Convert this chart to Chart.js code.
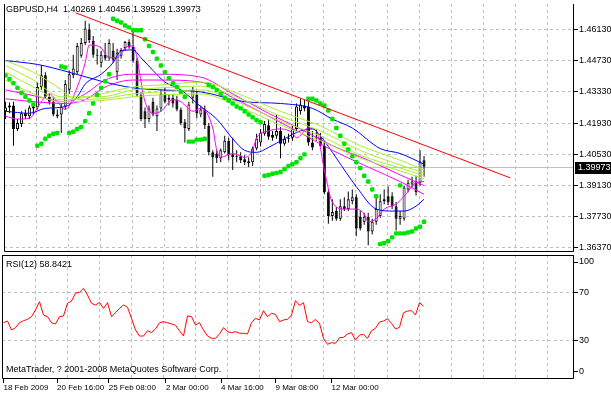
<!DOCTYPE html>
<html>
<head>
<meta charset="utf-8">
<title>GBPUSD,H4</title>
<script src="https://cdn.jsdelivr.net/npm/chart.js@4.4.1/dist/chart.umd.min.js"></script>
<style>
body { margin: 0; background: #fff; }
#wrap { position: relative; width: 611px; height: 395px; overflow: hidden; }
canvas { position: absolute; left: 0; }
#main { top: 0; }
#rsi { top: 254px; }
</style>
</head>
<body>
<div id="wrap">
<canvas id="main" width="611" height="256"></canvas>
<canvas id="rsi" width="611" height="141"></canvas>
</div>
<script>
const symbol = "GBPUSD,H4";

// H4 bars, oldest first
const opens = [1.4246, 1.4263, 1.4272, 1.4167, 1.4189, 1.4237, 1.4224, 1.4259, 1.4263, 1.4355,
	1.4407, 1.4311, 1.4289, 1.4232, 1.4232, 1.4267, 1.4342, 1.4407, 1.4421, 1.4495,
	1.4552, 1.4613, 1.4561, 1.4499, 1.4464, 1.4499, 1.4486, 1.4517, 1.4421, 1.4495,
	1.4530, 1.4556, 1.4534, 1.4473, 1.4320, 1.4246, 1.4211, 1.4289, 1.4224, 1.4259,
	1.4324, 1.4298, 1.4307, 1.4298, 1.4254, 1.4197, 1.4167, 1.4307, 1.4320, 1.4232,
	1.4254, 1.4180, 1.4062, 1.4057, 1.4036, 1.4062, 1.4114, 1.4053, 1.4044, 1.4044,
	1.4031, 1.4022, 1.4018, 1.4079, 1.4106, 1.4145, 1.4184, 1.4141, 1.4136, 1.4158,
	1.4101, 1.4123, 1.4127, 1.4167, 1.4246, 1.4272, 1.4267, 1.4106, 1.4127, 1.4127,
	1.4092, 1.3883, 1.3777, 1.3799, 1.3764, 1.3821, 1.3808, 1.3843, 1.3861, 1.3773,
	1.3751, 1.3773, 1.3707, 1.3751, 1.3777, 1.3843, 1.3865, 1.3865, 1.3821, 1.3764,
	1.3764, 1.3896, 1.3918, 1.3931, 1.3926, 1.40269];
const highs = [1.4289, 1.4285, 1.4289, 1.4211, 1.4246, 1.4254, 1.4272, 1.4272, 1.4377, 1.4451,
	1.4421, 1.4324, 1.4307, 1.4254, 1.4281, 1.4386, 1.4429, 1.4499, 1.4552, 1.4574,
	1.4652, 1.4639, 1.4583, 1.4526, 1.4517, 1.4552, 1.4569, 1.4552, 1.4526, 1.4530,
	1.4561, 1.4569, 1.4617, 1.4486, 1.4333, 1.4263, 1.4272, 1.4307, 1.4272, 1.4342,
	1.4355, 1.4320, 1.4324, 1.4316, 1.4263, 1.4211, 1.4289, 1.4355, 1.4337, 1.4272,
	1.4272, 1.4193, 1.4071, 1.4071, 1.4079, 1.4136, 1.4127, 1.4127, 1.4071, 1.4062,
	1.4049, 1.4040, 1.4088, 1.4145, 1.4167, 1.4202, 1.4211, 1.4158, 1.4232, 1.4176,
	1.4136, 1.4145, 1.4180, 1.4281, 1.4302, 1.4298, 1.4289, 1.4158, 1.4167, 1.4149,
	1.4110, 1.3896, 1.3852, 1.3817, 1.3852, 1.3861, 1.3887, 1.3896, 1.3874, 1.3799,
	1.3791, 1.3791, 1.3764, 1.3869, 1.3874, 1.3896, 1.3909, 1.3883, 1.3839, 1.3799,
	1.3913, 1.3939, 1.3953, 1.3957, 1.4071, 1.40456];
const lows = [1.4211, 1.4237, 1.4092, 1.4158, 1.4176, 1.4211, 1.4211, 1.4232, 1.4254, 1.4342,
	1.4302, 1.4276, 1.4224, 1.4215, 1.4149, 1.4254, 1.4324, 1.4394, 1.4412, 1.4486,
	1.4543, 1.4552, 1.4486, 1.4456, 1.4442, 1.4473, 1.4473, 1.4464, 1.4386, 1.4482,
	1.4517, 1.4526, 1.4464, 1.4311, 1.4202, 1.4171, 1.4197, 1.4224, 1.4158, 1.4246,
	1.4281, 1.4272, 1.4263, 1.4246, 1.4184, 1.4106, 1.4158, 1.4281, 1.4215, 1.4219,
	1.4167, 1.4049, 1.3953, 1.4014, 1.4018, 1.4057, 1.4027, 1.3983, 1.4018, 1.4014,
	1.4005, 1.3996, 1.4001, 1.4071, 1.4088, 1.4136, 1.4119, 1.4114, 1.4123, 1.4036,
	1.4092, 1.4106, 1.4114, 1.4158, 1.4232, 1.4246, 1.4092, 1.4071, 1.4114, 1.4088,
	1.3874, 1.3742, 1.3756, 1.3756, 1.3756, 1.3799, 1.3799, 1.3830, 1.3686, 1.3712,
	1.3738, 1.3646, 1.3694, 1.3738, 1.3769, 1.3830, 1.3826, 1.3808, 1.3712, 1.3738,
	1.3756, 1.3883, 1.3904, 1.3869, 1.3913, 1.39529];
const closes = [1.4263, 1.4272, 1.4167, 1.4193, 1.4237, 1.4224, 1.4263, 1.4267, 1.4355, 1.4407,
	1.4311, 1.4289, 1.4232, 1.4224, 1.4267, 1.4368, 1.4412, 1.4438, 1.4539, 1.4552,
	1.4617, 1.4565, 1.4499, 1.4495, 1.4499, 1.4482, 1.4552, 1.4477, 1.4508, 1.4521,
	1.4556, 1.4534, 1.4473, 1.4320, 1.4211, 1.4211, 1.4259, 1.4232, 1.4259, 1.4324,
	1.4289, 1.4307, 1.4281, 1.4254, 1.4193, 1.4171, 1.4276, 1.4342, 1.4237, 1.4254,
	1.4184, 1.4062, 1.4040, 1.4036, 1.4071, 1.4114, 1.4049, 1.4040, 1.4040, 1.4027,
	1.4018, 1.4014, 1.4079, 1.4123, 1.4149, 1.4189, 1.4132, 1.4127, 1.4158, 1.4101,
	1.4123, 1.4124, 1.4167, 1.4267, 1.4276, 1.4259, 1.4106, 1.4084, 1.4132, 1.4092,
	1.3883, 1.3777, 1.3795, 1.3764, 1.3821, 1.3808, 1.3852, 1.3861, 1.3721, 1.3721,
	1.3773, 1.3707, 1.3751, 1.3808, 1.3843, 1.3852, 1.3839, 1.3821, 1.3764, 1.3777,
	1.3904, 1.3926, 1.3931, 1.3883, 1.4018, 1.39973];

// parabolic SAR, one dot per bar
const sar = [1.4407, 1.4390, 1.4372, 1.4351, 1.4329, 1.4311, 1.4294, 1.4276, 1.4092, 1.4101,
	1.4123, 1.4136, 1.4145, 1.4149, 1.4447, 1.4442, 1.4149, 1.4154, 1.4167, 1.4176,
	1.4202, 1.4237, 1.4281, 1.4320, 1.4351, 1.4381, 1.4412, 1.4661, 1.4652, 1.4644,
	1.4630, 1.4622, 1.4609, 1.4609, 1.4609, 1.4569, 1.4539, 1.4512, 1.4482, 1.4451,
	1.4421, 1.4394, 1.4372, 1.4355, 1.4333, 1.4311, 1.4110, 1.4110, 1.4119, 1.4119,
	1.4123, 1.4364, 1.4355, 1.4342, 1.4324, 1.4307, 1.4294, 1.4281, 1.4267, 1.4259,
	1.4246, 1.4232, 1.4219, 1.4206, 1.4197, 1.3957, 1.3961, 1.3966, 1.3970, 1.3974,
	1.3987, 1.4001, 1.4009, 1.4018, 1.4036, 1.4053, 1.4302, 1.4302, 1.4294, 1.4281,
	1.4272, 1.4250, 1.4211, 1.4171, 1.4136, 1.4101, 1.4075, 1.4044, 1.4018, 1.3992,
	1.3957, 1.3931, 1.3896, 1.3865, 1.3651, 1.3655, 1.3664, 1.3681, 1.3699, 1.3699,
	1.3699, 1.3703, 1.3707, 1.3721, 1.3729, 1.3751];
const sarExtra = [[99, 1.3914]];

// moving averages, [bar, price]
const maBlueSlow = [[0, 1.4473], [8, 1.4456], [16, 1.4421], [24, 1.4381], [32, 1.4351], [39, 1.4342],
	[49, 1.4333], [60, 1.4289], [69, 1.4281], [77, 1.4259], [82, 1.4211], [87, 1.4171], [94, 1.4079],
	[99, 1.4057], [105, 1.4009]];
const maBlueFast = [[0, 1.4246], [6, 1.4237], [10, 1.4259], [15, 1.4267], [18, 1.4311], [20, 1.4368],
	[24, 1.4412], [27, 1.4464], [29, 1.4517], [32, 1.4521], [34, 1.4486], [37, 1.4429], [40, 1.4377],
	[44, 1.4342], [49, 1.4267], [53, 1.4211], [57, 1.4123], [60, 1.4071], [63, 1.4062], [66, 1.4084],
	[70, 1.4123], [74, 1.4158], [77, 1.4167], [79, 1.4136], [83, 1.4036], [88, 1.3909], [93, 1.3808],
	[97, 1.3799], [100, 1.3799], [103, 1.3821], [105, 1.3852]];
const maMagFast = [[0, 1.4224], [3, 1.4211], [6, 1.4215], [9, 1.4289], [11, 1.4324], [13, 1.4289],
	[15, 1.4254], [18, 1.4355], [20, 1.4464], [21, 1.4543], [23, 1.4539], [24, 1.4530], [26, 1.4486],
	[28, 1.4486], [30, 1.4530], [32, 1.4539], [33, 1.4486], [34, 1.4377], [35, 1.4289], [37, 1.4237],
	[39, 1.4246], [42, 1.4298], [44, 1.4289], [47, 1.4246], [49, 1.4259], [52, 1.4171], [53, 1.4071],
	[54, 1.4040], [57, 1.4057], [60, 1.4040], [62, 1.4071], [63, 1.4127], [66, 1.4158], [69, 1.4167],
	[72, 1.4149], [73, 1.4127], [76, 1.4171], [78, 1.4158], [80, 1.3983], [82, 1.3839], [85, 1.3808],
	[88, 1.3808], [90, 1.3786], [91, 1.3751], [93, 1.3764], [95, 1.3808], [98, 1.3830], [100, 1.3865],
	[101, 1.3887], [103, 1.3926], [105, 1.3931]];
const maMagA = [[0, 1.4342], [7, 1.4316], [15, 1.4289], [20, 1.4324], [25, 1.4386], [32, 1.4412],
	[39, 1.4412], [49, 1.4399], [57, 1.4324], [66, 1.4237], [74, 1.4167], [82, 1.4092], [91, 1.4027],
	[99, 1.3961], [105, 1.3913]];
const maMagB = [[0, 1.4302], [7, 1.4289], [15, 1.4281], [20, 1.4298], [25, 1.4355], [32, 1.4386],
	[39, 1.4386], [49, 1.4377], [57, 1.4307], [66, 1.4224], [74, 1.4149], [82, 1.4071], [91, 1.3996],
	[99, 1.3931], [105, 1.3874]];
const maGreen1 = [[0, 1.4473], [7, 1.4421], [14, 1.4342], [17, 1.4302], [24, 1.4324], [32, 1.4355],
	[39, 1.4364], [49, 1.4377], [59, 1.4320], [69, 1.4246], [79, 1.4180], [89, 1.4092], [99, 1.4027],
	[105, 1.3983]];
const maGreen2 = [[0, 1.4451], [7, 1.4386], [14, 1.4311], [24, 1.4311], [32, 1.4342], [39, 1.4351],
	[49, 1.4359], [59, 1.4302], [69, 1.4224], [79, 1.4158], [89, 1.4071], [99, 1.4005], [105, 1.3970]];
const maGreen3 = [[0, 1.4421], [7, 1.4355], [14, 1.4298], [24, 1.4302], [32, 1.4324], [39, 1.4333],
	[49, 1.4342], [59, 1.4281], [69, 1.4202], [79, 1.4136], [89, 1.4049], [99, 1.3992], [105, 1.3957]];
const maGreen4 = [[0, 1.4386], [7, 1.4324], [14, 1.4289], [24, 1.4294], [32, 1.4311], [39, 1.4320],
	[49, 1.4324], [59, 1.4263], [69, 1.4184], [79, 1.4114], [89, 1.4036], [99, 1.3979], [105, 1.3944]];

const trendLine = [[17.6, 1.4687], [126.6, 1.3948]];

// RSI(12)
const rsi = [45.1, 46.5, 39.1, 41.0, 45.1, 46.8, 47.9, 50.1, 55.7, 62.5,
	51.5, 50.1, 45.1, 44.1, 50.1, 50.7, 61.2, 63.1, 69.5, 70.3,
	73.6, 68.1, 61.2, 59.8, 62.0, 57.0, 61.7, 50.1, 53.4, 57.0,
	59.8, 57.9, 48.8, 39.1, 34.1, 34.1, 38.5, 36.9, 39.9, 45.1,
	46.0, 45.1, 44.1, 43.0, 38.5, 34.1, 50.7, 50.1, 43.2, 45.1,
	39.1, 34.1, 32.2, 32.2, 35.8, 41.0, 37.7, 36.9, 37.7, 36.4,
	36.4, 35.8, 45.1, 48.8, 47.4, 55.1, 50.1, 52.9, 52.1, 46.0,
	47.4, 47.9, 51.5, 63.4, 59.5, 61.7, 46.0, 45.1, 47.9, 44.6,
	32.2, 27.2, 28.6, 28.1, 32.7, 33.0, 35.8, 36.9, 30.8, 34.9,
	35.5, 32.2, 38.5, 40.5, 45.7, 46.5, 48.4, 44.6, 39.9, 41.3,
	53.4, 54.8, 55.1, 51.5, 61.7, 58.8421];

const priceTicks = [1.4613, 1.4473, 1.4333, 1.4193, 1.4053, 1.3913, 1.3773, 1.3637];
const rsiLevels = [100, 70, 30, 0];
const timeLabels = ["18 Feb 2009", "20 Feb 16:00", "25 Feb 08:00", "2 Mar 00:00", "4 Mar 16:00", "9 Mar 08:00", "12 Mar 00:00"];
const timeLabelBars = [0, 13.4, 26.3, 40.6, 54.4, 68, 82];

// 4 px per bar, window shows 143 bars
const xMin = -0.375;
const xMax = 142.625;
const gridBars = [];
for (let b = 7.875; b < xMax; b += 8) gridBars.push(b);

const FONT = '"Liberation Sans", Arial, sans-serif';
Chart.defaults.font.family = FONT;
Chart.defaults.font.size = 9;
Chart.defaults.color = "#000";
Chart.defaults.animation = false;

const GRID = "#c0c0c0";
const GREEN_MA = "#a6f02a";
const last = closes.length - 1;

// black panel frame; the price panel has no top edge
const framePlugin = {
	id: "frame",
	afterDatasetsDraw(chart, args, opts) {
		const a = chart.chartArea;
		const ctx = chart.ctx;
		const l = a.left + 0.5, r = a.right - 0.5, t = a.top + 0.5, b = a.bottom - 0.5;
		ctx.save();
		ctx.strokeStyle = "#000";
		ctx.lineWidth = 1;
		ctx.beginPath();
		ctx.moveTo(l, a.top);
		ctx.lineTo(l, b);
		ctx.lineTo(r, b);
		ctx.lineTo(r, a.top);
		if (opts.top) {
			ctx.moveTo(l, t);
			ctx.lineTo(r, t);
		}
		ctx.stroke();
		ctx.restore();
	},
};

const pricePlugin = {
	id: "price",
	beforeDatasetsDraw(chart) {
		const a = chart.chartArea;
		const ctx = chart.ctx;
		const y = Math.round(chart.scales.y.getPixelForValue(closes[last])) + 0.5;
		ctx.save();
		ctx.strokeStyle = GRID;
		ctx.beginPath();
		ctx.moveTo(a.left, y);
		ctx.lineTo(a.right, y);
		ctx.stroke();
		ctx.restore();
	},
	afterDraw(chart) {
		const a = chart.chartArea;
		const ctx = chart.ctx;
		const y = Math.round(chart.scales.y.getPixelForValue(closes[last]));
		ctx.save();
		ctx.fillStyle = "#000";
		ctx.fillRect(a.right + 1, y - 5, chart.width - a.right - 1, 12);
		ctx.fillStyle = "#fff";
		ctx.font = "9px " + FONT;
		ctx.textBaseline = "middle";
		ctx.fillText(closes[last].toFixed(5), a.right + 4, y + 1);
		// header
		ctx.fillStyle = "#000";
		const head = [opens[last], highs[last], lows[last], closes[last]].map(v => v.toFixed(5)).join(" ");
		ctx.fillText(symbol + "  " + head, 6, 10);
		ctx.restore();
	},
};

const rsiTextPlugin = {
	id: "rsiText",
	afterDraw(chart) {
		const a = chart.chartArea;
		const ctx = chart.ctx;
		ctx.save();
		ctx.fillStyle = "#000";
		ctx.font = "9px " + FONT;
		ctx.textBaseline = "middle";
		ctx.fillText("RSI(12) " + rsi[last].toFixed(4), a.left + 4, a.top + 10);
		ctx.fillText("MetaTrader, ? 2001-2008 MetaQuotes Software Corp.", a.left + 4, a.bottom - 9);
		ctx.restore();
	},
};

function maLine(points, color) {
	return {
		type: "line",
		data: points.map(p => ({ x: p[0], y: p[1] })),
		borderColor: color,
		borderWidth: 1,
		pointRadius: 0,
		cubicInterpolationMode: "monotone",
		order: 3,
	};
}

function noPad(s) {
	s.paddingTop = 0;
	s.paddingBottom = 0;
	s.paddingLeft = 0;
	s.paddingRight = 0;
}

const bars = opens.map((_, i) => i);

// main price panel
const ctx = document.getElementById("main").getContext("2d");
const mainChart = new Chart(ctx, {
	type: "bar",
	data: {
		datasets: [
			{
				type: "line",
				data: trendLine.map(p => ({ x: p[0], y: p[1] })),
				borderColor: "#ff0000",
				borderWidth: 1,
				pointRadius: 0,
				order: 0,
			},
			{
				type: "line",
				data: bars.map(i => ({ x: i, y: sar[i] })).concat(sarExtra.map(p => ({ x: p[0], y: p[1] }))),
				showLine: false,
				pointStyle: "rectRounded",
				pointRadius: 2.6,
				pointBorderWidth: 0,
				pointBackgroundColor: "#00e400",
				order: 1,
			},
			maLine(maGreen1, GREEN_MA),
			maLine(maGreen2, GREEN_MA),
			maLine(maGreen3, GREEN_MA),
			maLine(maGreen4, GREEN_MA),
			maLine(maBlueSlow, "#0000ff"),
			maLine(maMagA, "#ff00ff"),
			maLine(maMagB, "#ff00ff"),
			maLine(maBlueFast, "#0000ff"),
			maLine(maMagFast, "#ff00ff"),
			{
				type: "bar",
				data: bars.map(i => ({ x: i, y: [opens[i], closes[i]] })),
				backgroundColor: bars.map(i => (closes[i] >= opens[i] ? "#ffffff" : "#000000")),
				borderColor: "#000",
				borderWidth: 1,
				borderSkipped: false,
				barThickness: 3,
				minBarLength: 1,
				grouped: false,
				inflateAmount: 0,
				order: 8,
			},
			{
				type: "bar",
				data: bars.map(i => ({ x: i, y: [lows[i], highs[i]] })),
				backgroundColor: "#000",
				barThickness: 1,
				grouped: false,
				inflateAmount: 0,
				order: 9,
			},
		],
	},
	options: {
		responsive: false,
		maintainAspectRatio: false,
		devicePixelRatio: 1,
		events: [],
		layout: { padding: { left: 2, top: 0, right: 0, bottom: 0 } },
		plugins: { legend: { display: false }, tooltip: { enabled: false }, frame: { top: false } },
		scales: {
			x: {
				type: "linear",
				min: xMin,
				max: xMax,
				offset: false,
				grid: { color: GRID, drawTicks: false, offset: false },
				border: { display: false, dash: [3, 3] },
				ticks: { display: false },
				afterBuildTicks: s => { s.ticks = gridBars.map(v => ({ value: v })); },
				afterFit: s => { s.height = 2; noPad(s); },
			},
			y: {
				position: "right",
				min: 1.36155,
				max: 1.4726750,
				grid: { color: GRID, tickColor: "#000", tickLength: 4 },
				border: { display: false, dash: [3, 3] },
				ticks: { padding: 1, callback: v => v.toFixed(5) },
				afterBuildTicks: s => { s.ticks = priceTicks.map(v => ({ value: v })); },
				afterFit: s => { s.width = 37; noPad(s); },
			},
		},
	},
	plugins: [pricePlugin, framePlugin],
});

// RSI panel
const rsiMin = -1.5;
const rsiMax = 101.2;
const ctx2 = document.getElementById("rsi").getContext("2d");
const rsiChart = new Chart(ctx2, {
	type: "line",
	data: {
		datasets: [
			{
				data: bars.map(i => ({ x: i, y: rsi[i] })),
				borderColor: "#ff0000",
				borderWidth: 1,
				pointRadius: 0,
			},
		],
	},
	options: {
		responsive: false,
		maintainAspectRatio: false,
		devicePixelRatio: 1,
		events: [],
		layout: { padding: { left: 2, top: 1, right: 0, bottom: 0 } },
		plugins: { legend: { display: false }, tooltip: { enabled: false }, frame: { top: true } },
		scales: {
			x: {
				type: "linear",
				min: xMin,
				max: xMax,
				offset: false,
				grid: {
					color: c => (c.tick && c.tick.lab ? "rgba(0,0,0,0)" : GRID),
					tickColor: c => (c.tick && c.tick.lab ? "#000" : "rgba(0,0,0,0)"),
					tickLength: 4,
				},
				border: { display: false, dash: [3, 3] },
				ticks: {
					align: "start",
					autoSkip: false,
					maxRotation: 0,
					minRotation: 0,
					padding: 0,
					font: { size: 8 },
					callback: (v, i, t) => t[i].lab || "",
				},
				afterBuildTicks: s => {
					const t = gridBars.map(v => ({ value: v }))
						.concat(timeLabelBars.map((v, i) => ({ value: v, lab: timeLabels[i] })));
					t.sort((a, b) => a.value - b.value);
					s.ticks = t;
				},
				afterFit: s => { s.height = 16; noPad(s); },
			},
			y: {
				position: "right",
				min: rsiMin,
				max: rsiMax,
				grid: {
					color: c => (c.tick && c.tick.level > 0 && c.tick.level < 100 ? GRID : "rgba(0,0,0,0)"),
					tickColor: "#000",
					tickLength: 4,
				},
				border: { display: false, dash: [3, 3] },
				ticks: { padding: 1, callback: (v, i, t) => String(t[i].level) },
				afterBuildTicks: s => {
					// keep the 0 and 100 labels inside the pane
					s.ticks = rsiLevels.map(v => ({
						value: Math.min(Math.max(v, rsiMin + 5.8), rsiMax - 5.8),
						level: v,
					}));
				},
				afterFit: s => { s.width = 37; noPad(s); },
			},
		},
	},
	plugins: [framePlugin, rsiTextPlugin],
});
</script>
</body>
</html>
